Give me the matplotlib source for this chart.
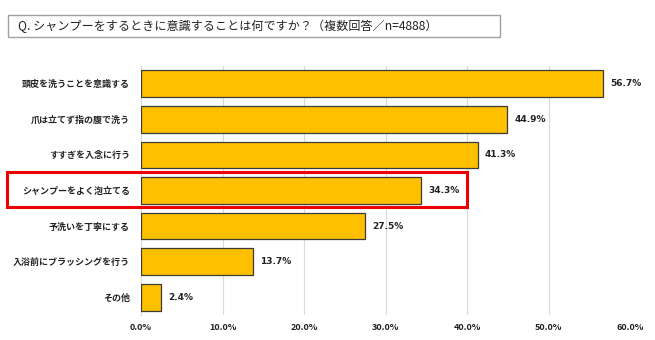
import matplotlib
matplotlib.use("Agg")
import matplotlib.pyplot as plt
from matplotlib.patches import Rectangle
from matplotlib.ticker import FuncFormatter

plt.rcParams['font.family'] = ['Noto Sans CJK JP', 'DejaVu Sans']

categories = ["頭皮を洗うことを意識する", "爪は立てず指の腹で洗う", "すすぎを入念に行う",
              "シャンプーをよく泡立てる", "予洗いを丁寧にする", "入浴前にブラッシングを行う", "その他"]
values = [56.7, 44.9, 41.3, 34.3, 27.5, 13.7, 2.4]
xticks = [0, 10, 20, 30, 40, 50, 60]
title = "Q. シャンプーをするときに意識することは何ですか？（複数回答／n=4888）"

W, H = 655, 340
fig = plt.figure(figsize=(W/100, H/100), dpi=100)
ax = fig.add_axes([141/W, 1-315/H, (630-141)/W, (315-66)/H])

y = list(range(len(categories)))
ax.barh(y, values, height=0.75, color="#FFC000", edgecolor="#3a3a3a", linewidth=0.9, zorder=3)
ax.set_ylim(len(categories)-0.5, -0.5)
ax.set_xlim(0, 60)
ax.set_yticks(y)
ax.set_yticklabels(categories, fontsize=6.5, fontweight='bold', color="#222222")
ax.set_xticks(xticks)
ax.xaxis.set_major_formatter(FuncFormatter(lambda v, p: f"{v:.1f}%"))
for lab in ax.get_xticklabels():
    lab.set_fontsize(6.5); lab.set_fontweight('bold'); lab.set_color("#222222")
ax.tick_params(axis='both', length=0)
ax.tick_params(axis='y', pad=8)
ax.tick_params(axis='x', pad=6)
ax.grid(axis='x', color="#d9d9d9", linewidth=0.8, zorder=0)
for s in ['top', 'right', 'bottom']:
    ax.spines[s].set_visible(False)
ax.spines['left'].set_color("#d9d9d9")
ax.spines['left'].set_linewidth(0.8)

for yi, v in zip(y, values):
    ax.text(v + 0.9, yi, f"{v:.1f}%", va='center', ha='left', fontsize=6.5,
            fontweight='bold', color="#222222", family='DejaVu Sans')

# title box
fig.patches.append(Rectangle((8/W, 1-37/H), (500-8)/W, (37-15)/H, transform=fig.transFigure,
                             fill=False, edgecolor="#a0a0a0", linewidth=1))
fig.text(18/W, 1-26/H, title, ha='left', va='center', fontsize=8.7, color="#222222")

# red highlight
fig.patches.append(Rectangle((7/W, 1-207/H), (467-7)/W, (207-172)/H, transform=fig.transFigure,
                             fill=False, edgecolor="#ee0000", linewidth=2.2, zorder=10))

fig.savefig("out.png", dpi=100, facecolor="white")
